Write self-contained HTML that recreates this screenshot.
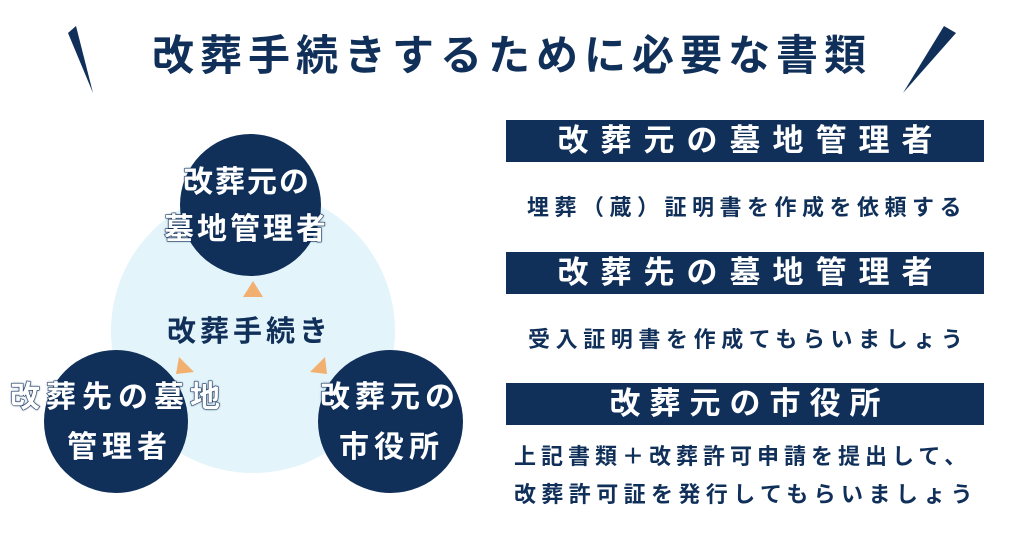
<!DOCTYPE html>
<html><head><meta charset="utf-8"><style>
body{margin:0;width:1024px;height:538px;background:#fff;position:relative;overflow:hidden;font-family:"Liberation Sans","Noto Sans CJK JP",sans-serif;font-weight:bold;}
.a{position:absolute;white-space:nowrap;line-height:1;}
.c{position:absolute;border-radius:50%;background:#10305a;}
.w{color:#fff;-webkit-text-stroke:1px #10305a;paint-order:stroke fill;text-shadow:0 0 2px #10305a,0 0 1px #10305a;}
.bar{position:absolute;left:506px;width:478px;height:42px;background:#10305a;color:#fff;font-size:31px;line-height:42px;text-align:center;}
.d{color:#10305a;}
</style></head><body>
<svg class="a" style="left:0;top:0" width="1024" height="538">
<polygon points="68,33 76,26 93,93" fill="#10305a"/>
<polygon points="944,26 956,33 903,93" fill="#10305a"/>
</svg>
<div class="a d" style="left:152px;top:35px;font-size:42px;letter-spacing:6px;">改葬手続きするために必要な書類</div>
<div class="c" style="left:111px;top:189px;width:284px;height:284px;background:#e3f4fa"></div>
<svg class="a" style="left:0;top:0" width="1024" height="538">
<polygon points="253,281 243,297 263,297" fill="#f2b070"/>
<polygon points="179,357 176,374 194,372" fill="#f2b070"/>
<polygon points="325,357 310,372 327,374" fill="#f2b070"/>
</svg>
<div class="c" style="left:180px;top:134px;width:141px;height:142px"></div>
<div class="c" style="left:44px;top:350px;width:144px;height:143px"></div>
<div class="c" style="left:318px;top:350px;width:145px;height:143px"></div>
<div class="a w" style="left:183px;top:168px;font-size:30px;letter-spacing:2px;">改葬元の</div>
<div class="a w" style="left:164px;top:215px;font-size:30px;letter-spacing:3px;">墓地管理者</div>
<div class="a d" style="left:167px;top:318px;font-size:29px;letter-spacing:4px;">改葬手続き</div>
<div class="a w" style="left:10px;top:383px;font-size:30px;letter-spacing:6px;">改葬先の墓地</div>
<div class="a w" style="left:67px;top:433px;font-size:30px;letter-spacing:5px;">管理者</div>
<div class="a w" style="left:320px;top:383px;font-size:30px;letter-spacing:5px;">改葬元の</div>
<div class="a w" style="left:339px;top:433px;font-size:30px;letter-spacing:5px;">市役所</div>
<div class="bar" style="top:120px;letter-spacing:12px;text-indent:12px;">改葬元の墓地管理者</div>
<div class="bar" style="top:252px;letter-spacing:12px;text-indent:12px;">改葬先の墓地管理者</div>
<div class="bar" style="top:383px;letter-spacing:9px;text-indent:9px;">改葬元の市役所</div>
<div class="a d" style="left:527px;top:197px;font-size:22px;letter-spacing:5.5px;">埋葬（蔵）証明書を作成を依頼する</div>
<div class="a d" style="left:528px;top:329px;font-size:22px;letter-spacing:5.6px;">受入証明書を作成てもらいましょう</div>
<div class="a d" style="left:514px;top:446px;font-size:22px;letter-spacing:5px;">上記書類＋改葬許可申請を提出して、</div>
<div class="a d" style="left:514px;top:484px;font-size:22px;letter-spacing:5.4px;">改葬許可証を発行してもらいましょう</div>
</body></html>
